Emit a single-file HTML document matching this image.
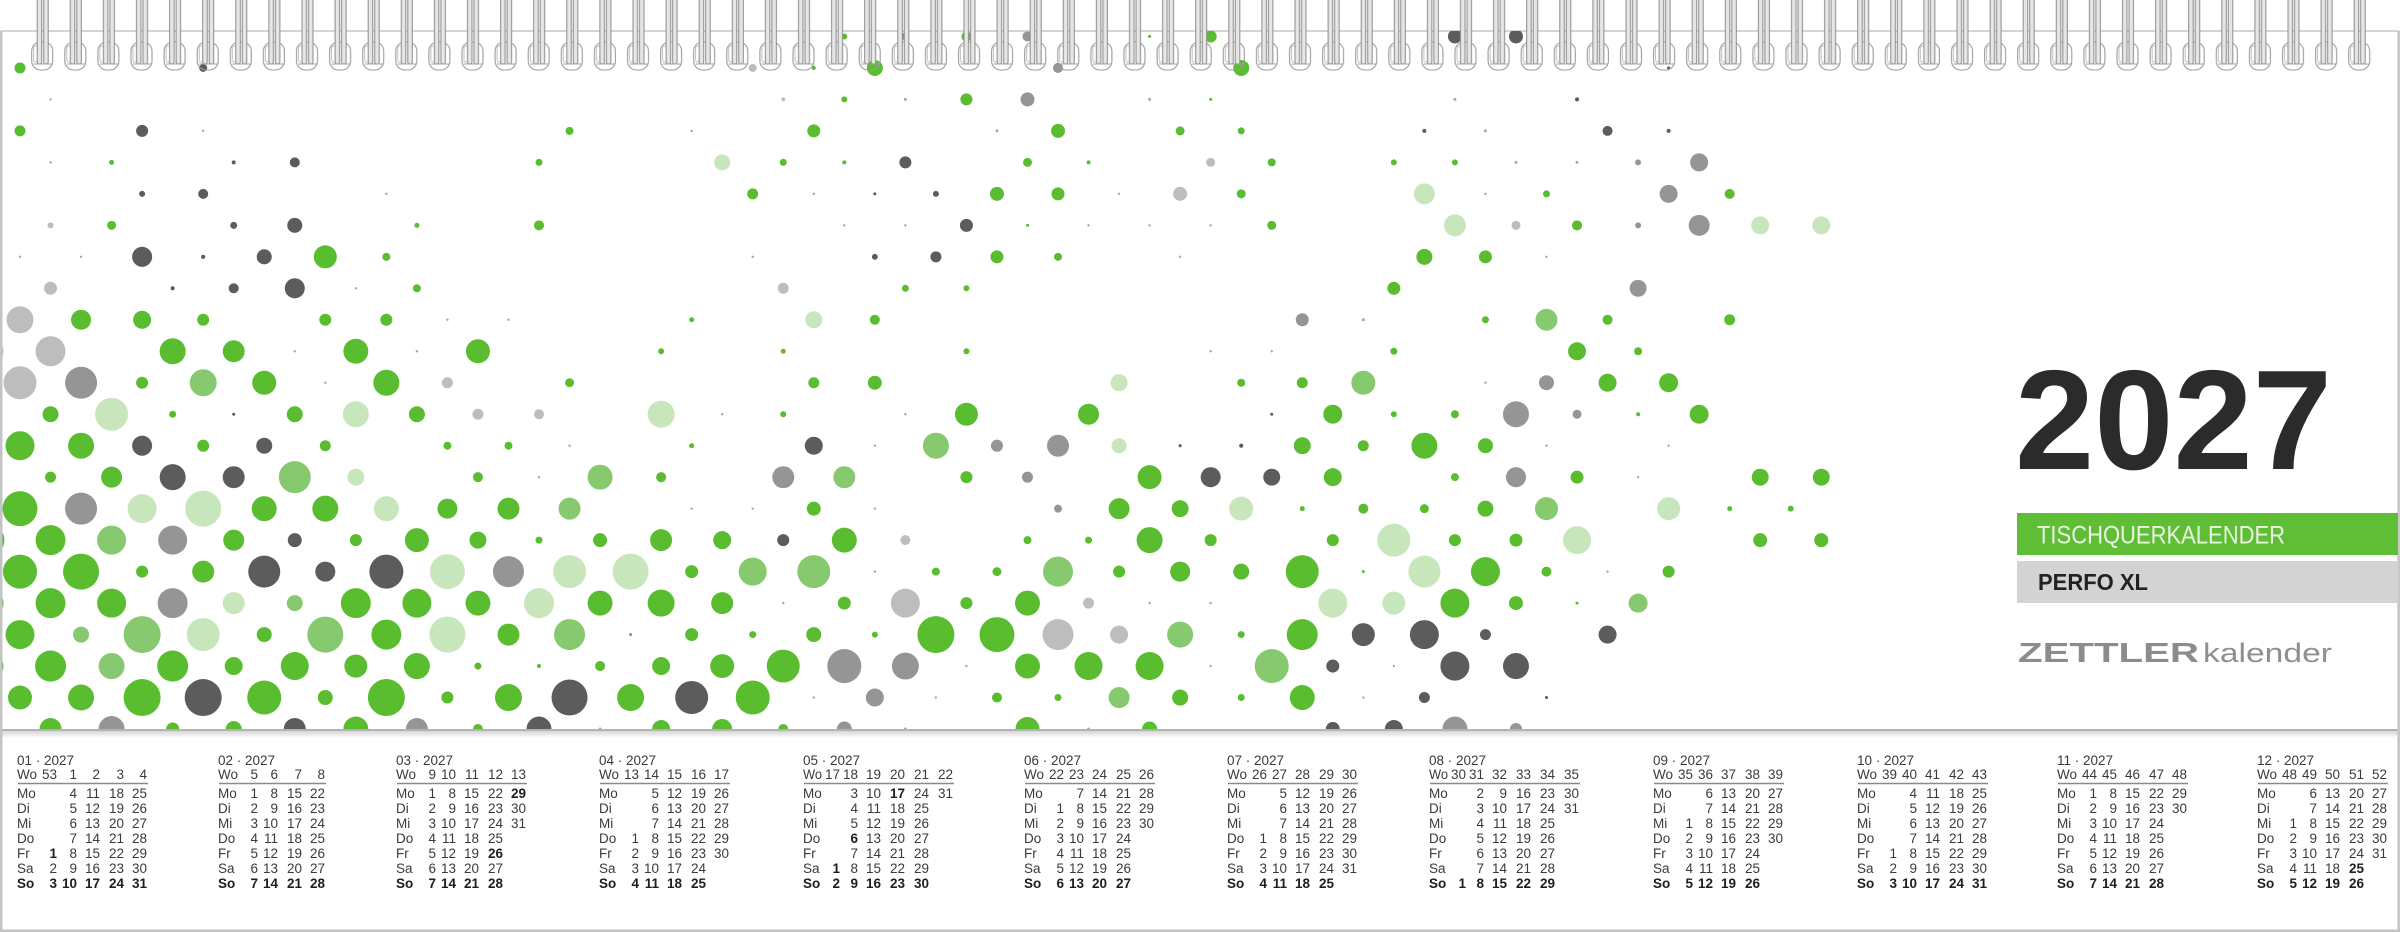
<!DOCTYPE html>
<html><head><meta charset="utf-8"><title>Tischquerkalender 2027</title>
<style>
html,body{margin:0;padding:0;background:#fff;}
svg{display:block;}
.g{fill:#59bd2f}.l{fill:#86c96f}.p{fill:#c8e6bc}.k{fill:#5c5c5c}.m{fill:#959595}.s{fill:#bdbdbd}.t{fill:#a8a8a8}
.cal text{font-family:"Liberation Sans",Arial,sans-serif;font-size:13.5px;fill:#3a3a3a}
.cal .e{text-anchor:end}
.cal .b,.cal tspan.b{font-weight:bold;fill:#1e1e1e}
.u{stroke:#8a8a8a;stroke-width:1.6;fill:none}
</style></head>
<body>
<svg width="2400" height="932" viewBox="0 0 2400 932" xmlns="http://www.w3.org/2000/svg">
<defs>
<clipPath id="cp"><rect x="2" y="31" width="2396" height="698"/></clipPath>
<pattern id="sp" x="26.15" y="0" width="33.1" height="80" patternUnits="userSpaceOnUse">
 <g transform="translate(16.55 0)">
 <rect x="-11" y="42" width="21" height="28" rx="9" fill="none" stroke="#9c9c9c" stroke-width="1.1"/>
 <rect x="-9" y="46" width="7" height="16" rx="2" fill="none" stroke="#b0b0b0" stroke-width=".8"/>
 <rect x="-5.5" y="-2" width="4.5" height="66" rx="2.2" fill="#e6e6e6" stroke="#8c8c8c" stroke-width="1"/>
 <rect x="1" y="-2" width="4.5" height="66" rx="2.2" fill="#e6e6e6" stroke="#8c8c8c" stroke-width="1"/>
 <path d="M-9 64h18" stroke="#a0a0a0" stroke-width="1"/>
 </g>
</pattern>
<linearGradient id="sh" x1="0" y1="0" x2="0" y2="1"><stop offset="0" stop-color="#d6d6d6"/><stop offset="1" stop-color="#fff"/></linearGradient>
</defs>
<rect width="2400" height="932" fill="#fff"/>
<rect x="1.5" y="31" width="2396.5" height="900" fill="#fff" stroke="#c6c6c6" stroke-width="1.5"/>

<g clip-path="url(#cp)">
<g transform="translate(20 0) scale(30.53)">
<g transform="translate(0 1.194)"><circle class="g" cx="27" r=".098"/><circle class="g" cx="29" r=".131"/><circle class="g" cx="31" r=".164"/><circle class="m" cx="33" r=".164"/><circle class="g" cx="37" r=".05"/><circle class="g" cx="39" r=".197"/><circle class="k" cx="47" r=".229"/><circle class="k" cx="49" r=".229"/></g>
<g transform="translate(0 2.2254)"><circle class="g" cx="0" r=".18"/><circle class="k" cx="6" r=".131"/><circle class="s" cx="24" r=".131"/><circle class="g" cx="26" r=".066"/><circle class="g" cx="28" r=".262"/><circle class="m" cx="34" r=".164"/><circle class="g" cx="40" r=".262"/><circle class="k" cx="54" r=".05"/></g>
<g transform="translate(0 3.2565)"><circle class="t" cx="1" r=".04"/><circle class="s" cx="25" r=".066"/><circle class="g" cx="27" r=".098"/><circle class="t" cx="29" r=".05"/><circle class="g" cx="31" r=".197"/><circle class="m" cx="33" r=".229"/><circle class="t" cx="37" r=".05"/><circle class="g" cx="39" r=".05"/><circle class="t" cx="47" r=".05"/><circle class="k" cx="51" r=".066"/></g>
<g transform="translate(0 4.2876)"><circle class="g" cx="0" r=".18"/><circle class="k" cx="4" r=".197"/><circle class="t" cx="6" r=".04"/><circle class="g" cx="18" r=".131"/><circle class="t" cx="22" r=".04"/><circle class="g" cx="26" r=".213"/><circle class="t" cx="32" r=".05"/><circle class="g" cx="34" r=".229"/><circle class="g" cx="38" r=".147"/><circle class="g" cx="40" r=".115"/><circle class="k" cx="46" r=".066"/><circle class="t" cx="48" r=".05"/><circle class="k" cx="52" r=".164"/><circle class="k" cx="54" r=".066"/></g>
<g transform="translate(0 5.3187)"><circle class="t" cx="1" r=".04"/><circle class="g" cx="3" r=".082"/><circle class="k" cx="7" r=".066"/><circle class="k" cx="9" r=".164"/><circle class="g" cx="17" r=".115"/><circle class="p" cx="23" r=".262"/><circle class="g" cx="25" r=".115"/><circle class="g" cx="27" r=".066"/><circle class="k" cx="29" r=".197"/><circle class="g" cx="33" r=".147"/><circle class="g" cx="35" r=".066"/><circle class="s" cx="39" r=".147"/><circle class="g" cx="41" r=".131"/><circle class="g" cx="45" r=".098"/><circle class="g" cx="47" r=".098"/><circle class="t" cx="49" r=".05"/><circle class="t" cx="51" r=".05"/><circle class="m" cx="53" r=".098"/><circle class="m" cx="55" r=".295"/></g>
<g transform="translate(0 6.3498)"><circle class="k" cx="4" r=".098"/><circle class="k" cx="6" r=".164"/><circle class="t" cx="12" r=".04"/><circle class="g" cx="24" r=".18"/><circle class="t" cx="26" r=".04"/><circle class="k" cx="28" r=".05"/><circle class="k" cx="30" r=".098"/><circle class="g" cx="32" r=".229"/><circle class="g" cx="34" r=".213"/><circle class="t" cx="36" r=".04"/><circle class="s" cx="38" r=".229"/><circle class="g" cx="40" r=".147"/><circle class="p" cx="46" r=".344"/><circle class="t" cx="48" r=".04"/><circle class="g" cx="50" r=".115"/><circle class="m" cx="54" r=".295"/><circle class="g" cx="56" r=".164"/></g>
<g transform="translate(0 7.381)"><circle class="s" cx="1" r=".098"/><circle class="g" cx="3" r=".147"/><circle class="k" cx="7" r=".115"/><circle class="k" cx="9" r=".246"/><circle class="g" cx="13" r=".082"/><circle class="g" cx="17" r=".164"/><circle class="t" cx="27" r=".04"/><circle class="t" cx="29" r=".04"/><circle class="k" cx="31" r=".213"/><circle class="g" cx="33" r=".05"/><circle class="t" cx="35" r=".04"/><circle class="t" cx="37" r=".04"/><circle class="t" cx="39" r=".04"/><circle class="g" cx="41" r=".147"/><circle class="p" cx="47" r=".36"/><circle class="s" cx="49" r=".147"/><circle class="g" cx="51" r=".164"/><circle class="m" cx="53" r=".098"/><circle class="m" cx="55" r=".344"/><circle class="p" cx="57" r=".295"/><circle class="p" cx="59" r=".295"/></g>
<g transform="translate(0 8.4121)"><circle class="t" cx="0" r=".04"/><circle class="t" cx="2" r=".04"/><circle class="k" cx="4" r=".328"/><circle class="k" cx="6" r=".066"/><circle class="k" cx="8" r=".246"/><circle class="g" cx="10" r=".377"/><circle class="g" cx="12" r=".131"/><circle class="t" cx="24" r=".04"/><circle class="k" cx="28" r=".098"/><circle class="k" cx="30" r=".18"/><circle class="g" cx="32" r=".213"/><circle class="g" cx="34" r=".131"/><circle class="t" cx="38" r=".04"/><circle class="g" cx="46" r=".262"/><circle class="g" cx="48" r=".213"/><circle class="t" cx="50" r=".04"/></g>
<g transform="translate(0 9.4432)"><circle class="s" cx="1" r=".213"/><circle class="k" cx="5" r=".066"/><circle class="k" cx="7" r=".164"/><circle class="k" cx="9" r=".328"/><circle class="t" cx="11" r=".04"/><circle class="g" cx="13" r=".131"/><circle class="s" cx="25" r=".18"/><circle class="g" cx="29" r=".115"/><circle class="g" cx="31" r=".098"/><circle class="g" cx="45" r=".213"/><circle class="m" cx="53" r=".278"/></g>
<g transform="translate(0 10.4743)"><circle class="s" cx="0" r=".442"/><circle class="g" cx="2" r=".328"/><circle class="g" cx="4" r=".295"/><circle class="g" cx="6" r=".197"/><circle class="g" cx="10" r=".197"/><circle class="g" cx="12" r=".197"/><circle class="t" cx="14" r=".04"/><circle class="t" cx="16" r=".04"/><circle class="g" cx="22" r=".082"/><circle class="p" cx="26" r=".278"/><circle class="g" cx="28" r=".164"/><circle class="m" cx="42" r=".213"/><circle class="t" cx="44" r=".05"/><circle class="g" cx="48" r=".115"/><circle class="l" cx="50" r=".36"/><circle class="g" cx="52" r=".164"/><circle class="g" cx="56" r=".18"/></g>
<g transform="translate(0 11.5054)"><circle class="s" cx="-1" r=".459"/><circle class="s" cx="1" r=".491"/><circle class="g" cx="5" r=".426"/><circle class="g" cx="7" r=".36"/><circle class="t" cx="9" r=".04"/><circle class="g" cx="11" r=".409"/><circle class="t" cx="13" r=".04"/><circle class="g" cx="15" r=".393"/><circle class="g" cx="21" r=".098"/><circle class="g" cx="25" r=".082"/><circle class="g" cx="31" r=".098"/><circle class="t" cx="39" r=".04"/><circle class="t" cx="41" r=".04"/><circle class="g" cx="45" r=".115"/><circle class="g" cx="51" r=".295"/><circle class="g" cx="53" r=".131"/></g>
<g transform="translate(0 12.5365)"><circle class="s" cx="0" r=".54"/><circle class="m" cx="2" r=".524"/><circle class="g" cx="4" r=".197"/><circle class="l" cx="6" r=".442"/><circle class="g" cx="8" r=".393"/><circle class="t" cx="10" r=".04"/><circle class="g" cx="12" r=".426"/><circle class="s" cx="14" r=".18"/><circle class="g" cx="18" r=".147"/><circle class="g" cx="26" r=".18"/><circle class="g" cx="28" r=".229"/><circle class="p" cx="36" r=".278"/><circle class="g" cx="40" r=".131"/><circle class="g" cx="42" r=".18"/><circle class="l" cx="44" r=".393"/><circle class="t" cx="48" r=".04"/><circle class="m" cx="50" r=".246"/><circle class="g" cx="52" r=".295"/><circle class="g" cx="54" r=".311"/></g>
<g transform="translate(0 13.5676)"><circle class="g" cx="1" r=".262"/><circle class="p" cx="3" r=".54"/><circle class="g" cx="5" r=".115"/><circle class="k" cx="7" r=".05"/><circle class="g" cx="9" r=".262"/><circle class="p" cx="11" r=".426"/><circle class="g" cx="13" r=".262"/><circle class="s" cx="15" r=".18"/><circle class="s" cx="17" r=".164"/><circle class="p" cx="21" r=".442"/><circle class="t" cx="23" r=".04"/><circle class="g" cx="25" r=".098"/><circle class="t" cx="29" r=".04"/><circle class="g" cx="31" r=".377"/><circle class="g" cx="35" r=".344"/><circle class="k" cx="41" r=".05"/><circle class="g" cx="43" r=".311"/><circle class="g" cx="45" r=".098"/><circle class="g" cx="47" r=".131"/><circle class="m" cx="49" r=".426"/><circle class="m" cx="51" r=".147"/><circle class="g" cx="53" r=".066"/><circle class="g" cx="55" r=".311"/></g>
<g transform="translate(0 14.5987)"><circle class="g" cx="0" r=".475"/><circle class="g" cx="2" r=".426"/><circle class="k" cx="4" r=".328"/><circle class="g" cx="6" r=".197"/><circle class="k" cx="8" r=".262"/><circle class="g" cx="10" r=".18"/><circle class="g" cx="14" r=".131"/><circle class="g" cx="16" r=".131"/><circle class="t" cx="18" r=".04"/><circle class="g" cx="22" r=".082"/><circle class="k" cx="26" r=".295"/><circle class="t" cx="28" r=".04"/><circle class="l" cx="30" r=".426"/><circle class="m" cx="32" r=".197"/><circle class="m" cx="34" r=".36"/><circle class="p" cx="36" r=".246"/><circle class="k" cx="38" r=".05"/><circle class="k" cx="40" r=".066"/><circle class="g" cx="42" r=".278"/><circle class="g" cx="44" r=".18"/><circle class="g" cx="46" r=".426"/><circle class="g" cx="48" r=".246"/><circle class="t" cx="50" r=".04"/><circle class="t" cx="54" r=".04"/></g>
<g transform="translate(0 15.6299)"><circle class="g" cx="1" r=".18"/><circle class="g" cx="3" r=".344"/><circle class="k" cx="5" r=".426"/><circle class="k" cx="7" r=".36"/><circle class="l" cx="9" r=".524"/><circle class="p" cx="11" r=".278"/><circle class="g" cx="15" r=".164"/><circle class="t" cx="17" r=".04"/><circle class="l" cx="19" r=".409"/><circle class="g" cx="21" r=".164"/><circle class="m" cx="25" r=".36"/><circle class="l" cx="27" r=".36"/><circle class="g" cx="31" r=".197"/><circle class="m" cx="33" r=".18"/><circle class="g" cx="37" r=".393"/><circle class="k" cx="39" r=".328"/><circle class="k" cx="41" r=".278"/><circle class="g" cx="43" r=".295"/><circle class="g" cx="47" r=".131"/><circle class="m" cx="49" r=".328"/><circle class="g" cx="51" r=".213"/><circle class="t" cx="53" r=".04"/><circle class="g" cx="57" r=".278"/><circle class="g" cx="59" r=".278"/></g>
<g transform="translate(0 16.661)"><circle class="g" cx="0" r=".573"/><circle class="m" cx="2" r=".524"/><circle class="p" cx="4" r=".475"/><circle class="p" cx="6" r=".59"/><circle class="g" cx="8" r=".409"/><circle class="g" cx="10" r=".426"/><circle class="p" cx="12" r=".409"/><circle class="g" cx="14" r=".328"/><circle class="g" cx="16" r=".36"/><circle class="l" cx="18" r=".36"/><circle class="t" cx="22" r=".04"/><circle class="t" cx="24" r=".04"/><circle class="g" cx="26" r=".229"/><circle class="t" cx="28" r=".04"/><circle class="m" cx="34" r=".131"/><circle class="g" cx="36" r=".344"/><circle class="g" cx="38" r=".278"/><circle class="p" cx="40" r=".393"/><circle class="g" cx="42" r=".082"/><circle class="g" cx="44" r=".164"/><circle class="g" cx="46" r=".147"/><circle class="g" cx="48" r=".262"/><circle class="l" cx="50" r=".377"/><circle class="p" cx="54" r=".377"/><circle class="g" cx="56" r=".082"/><circle class="g" cx="58" r=".098"/></g>
<g transform="translate(0 17.6921)"><circle class="g" cx="-1" r=".491"/><circle class="g" cx="1" r=".491"/><circle class="l" cx="3" r=".475"/><circle class="m" cx="5" r=".475"/><circle class="g" cx="7" r=".344"/><circle class="k" cx="9" r=".229"/><circle class="g" cx="11" r=".197"/><circle class="g" cx="13" r=".393"/><circle class="g" cx="15" r=".278"/><circle class="g" cx="17" r=".115"/><circle class="g" cx="19" r=".229"/><circle class="g" cx="21" r=".36"/><circle class="g" cx="23" r=".295"/><circle class="k" cx="25" r=".197"/><circle class="g" cx="27" r=".409"/><circle class="s" cx="29" r=".164"/><circle class="g" cx="33" r=".131"/><circle class="g" cx="35" r=".115"/><circle class="g" cx="37" r=".426"/><circle class="g" cx="39" r=".197"/><circle class="g" cx="43" r=".197"/><circle class="p" cx="45" r=".54"/><circle class="g" cx="47" r=".197"/><circle class="g" cx="49" r=".213"/><circle class="p" cx="51" r=".459"/><circle class="g" cx="57" r=".229"/><circle class="g" cx="59" r=".229"/></g>
<g transform="translate(0 18.7232)"><circle class="g" cx="0" r=".557"/><circle class="g" cx="2" r=".59"/><circle class="g" cx="4" r=".197"/><circle class="g" cx="6" r=".36"/><circle class="k" cx="8" r=".524"/><circle class="k" cx="10" r=".328"/><circle class="k" cx="12" r=".557"/><circle class="p" cx="14" r=".573"/><circle class="m" cx="16" r=".508"/><circle class="p" cx="18" r=".54"/><circle class="p" cx="20" r=".59"/><circle class="g" cx="22" r=".213"/><circle class="l" cx="24" r=".459"/><circle class="l" cx="26" r=".54"/><circle class="t" cx="28" r=".04"/><circle class="g" cx="30" r=".131"/><circle class="g" cx="32" r=".147"/><circle class="l" cx="34" r=".491"/><circle class="g" cx="36" r=".197"/><circle class="g" cx="38" r=".328"/><circle class="g" cx="40" r=".262"/><circle class="g" cx="42" r=".54"/><circle class="g" cx="44" r=".05"/><circle class="p" cx="46" r=".524"/><circle class="g" cx="48" r=".475"/><circle class="g" cx="50" r=".164"/><circle class="t" cx="52" r=".04"/><circle class="g" cx="54" r=".197"/></g>
<g transform="translate(0 19.7543)"><circle class="g" cx="-1" r=".459"/><circle class="g" cx="1" r=".491"/><circle class="g" cx="3" r=".475"/><circle class="m" cx="5" r=".491"/><circle class="p" cx="7" r=".36"/><circle class="l" cx="9" r=".262"/><circle class="g" cx="11" r=".491"/><circle class="g" cx="13" r=".475"/><circle class="g" cx="15" r=".409"/><circle class="p" cx="17" r=".491"/><circle class="g" cx="19" r=".409"/><circle class="g" cx="21" r=".442"/><circle class="g" cx="23" r=".36"/><circle class="t" cx="25" r=".04"/><circle class="g" cx="27" r=".213"/><circle class="s" cx="29" r=".475"/><circle class="g" cx="31" r=".197"/><circle class="g" cx="33" r=".409"/><circle class="s" cx="35" r=".18"/><circle class="t" cx="37" r=".04"/><circle class="t" cx="39" r=".04"/><circle class="p" cx="43" r=".475"/><circle class="p" cx="45" r=".377"/><circle class="g" cx="47" r=".475"/><circle class="g" cx="49" r=".229"/><circle class="g" cx="51" r=".05"/><circle class="l" cx="53" r=".311"/></g>
<g transform="translate(0 20.7854)"><circle class="g" cx="0" r=".475"/><circle class="l" cx="2" r=".262"/><circle class="l" cx="4" r=".606"/><circle class="p" cx="6" r=".54"/><circle class="g" cx="8" r=".246"/><circle class="l" cx="10" r=".59"/><circle class="g" cx="12" r=".491"/><circle class="p" cx="14" r=".59"/><circle class="g" cx="16" r=".36"/><circle class="l" cx="18" r=".508"/><circle class="g" cx="20" r=".05"/><circle class="g" cx="22" r=".213"/><circle class="g" cx="24" r=".115"/><circle class="g" cx="26" r=".246"/><circle class="g" cx="28" r=".098"/><circle class="g" cx="30" r=".606"/><circle class="g" cx="32" r=".573"/><circle class="s" cx="34" r=".508"/><circle class="s" cx="36" r=".295"/><circle class="l" cx="38" r=".426"/><circle class="g" cx="40" r=".115"/><circle class="g" cx="42" r=".508"/><circle class="k" cx="44" r=".377"/><circle class="k" cx="46" r=".475"/><circle class="k" cx="48" r=".18"/><circle class="k" cx="52" r=".295"/></g>
<g transform="translate(0 21.8166)"><circle class="g" cx="-1" r=".459"/><circle class="g" cx="1" r=".508"/><circle class="l" cx="3" r=".426"/><circle class="g" cx="5" r=".508"/><circle class="g" cx="7" r=".295"/><circle class="g" cx="9" r=".459"/><circle class="g" cx="11" r=".377"/><circle class="g" cx="13" r=".426"/><circle class="g" cx="15" r=".115"/><circle class="g" cx="17" r=".066"/><circle class="g" cx="19" r=".164"/><circle class="g" cx="21" r=".295"/><circle class="g" cx="23" r=".393"/><circle class="g" cx="25" r=".54"/><circle class="m" cx="27" r=".557"/><circle class="m" cx="29" r=".442"/><circle class="t" cx="31" r=".04"/><circle class="g" cx="33" r=".409"/><circle class="g" cx="35" r=".459"/><circle class="g" cx="37" r=".459"/><circle class="t" cx="39" r=".04"/><circle class="l" cx="41" r=".557"/><circle class="k" cx="43" r=".213"/><circle class="t" cx="45" r=".04"/><circle class="k" cx="47" r=".475"/><circle class="k" cx="49" r=".426"/></g>
<g transform="translate(0 22.8477)"><circle class="g" cx="0" r=".393"/><circle class="g" cx="2" r=".426"/><circle class="g" cx="4" r=".606"/><circle class="k" cx="6" r=".606"/><circle class="g" cx="8" r=".557"/><circle class="g" cx="10" r=".246"/><circle class="g" cx="12" r=".606"/><circle class="g" cx="14" r=".197"/><circle class="g" cx="16" r=".442"/><circle class="k" cx="18" r=".59"/><circle class="g" cx="20" r=".442"/><circle class="k" cx="22" r=".54"/><circle class="g" cx="24" r=".557"/><circle class="t" cx="26" r=".04"/><circle class="m" cx="28" r=".295"/><circle class="t" cx="30" r=".04"/><circle class="g" cx="32" r=".164"/><circle class="g" cx="34" r=".115"/><circle class="l" cx="36" r=".344"/><circle class="g" cx="38" r=".262"/><circle class="g" cx="40" r=".115"/><circle class="g" cx="42" r=".409"/><circle class="t" cx="44" r=".04"/><circle class="k" cx="46" r=".18"/><circle class="k" cx="50" r=".05"/></g>
<g transform="translate(0 23.8788)"><circle class="g" cx="1" r=".36"/><circle class="m" cx="3" r=".426"/><circle class="g" cx="5" r=".213"/><circle class="g" cx="7" r=".262"/><circle class="k" cx="9" r=".36"/><circle class="g" cx="11" r=".409"/><circle class="m" cx="13" r=".36"/><circle class="g" cx="15" r=".164"/><circle class="k" cx="17" r=".409"/><circle class="t" cx="19" r=".05"/><circle class="g" cx="21" r=".295"/><circle class="g" cx="23" r=".328"/><circle class="g" cx="25" r=".164"/><circle class="m" cx="27" r=".246"/><circle class="t" cx="29" r=".05"/><circle class="g" cx="33" r=".393"/><circle class="t" cx="35" r=".05"/><circle class="g" cx="37" r=".246"/><circle class="k" cx="43" r=".229"/><circle class="k" cx="45" r=".295"/><circle class="m" cx="47" r=".409"/><circle class="m" cx="49" r=".197"/></g>
</g>
</g>

<!-- top section bottom edge -->
<rect x="2" y="729" width="2396" height="2" fill="#b3b3b3"/>
<rect x="2" y="731" width="2396" height="7" fill="url(#sh)"/>
<rect x="0" y="31" width="2.5" height="901" fill="#c4c4c4"/>
<rect x="2397.5" y="31" width="2.5" height="901" fill="#c8c8c8"/>
<rect x="0" y="929.5" width="2400" height="2.5" fill="#c4c4c4"/>

<!-- spiral -->
<rect x="26.15" y="0" width="2350.1" height="76" fill="url(#sp)"/>

<!-- title block -->
<text x="2015" y="469" font-family="Liberation Sans, Arial, sans-serif" font-size="142" font-weight="bold" fill="#2b2b2b" textLength="317" lengthAdjust="spacingAndGlyphs">2027</text>
<rect x="2017" y="513" width="381" height="42" fill="#5fbe35"/>
<text x="2037" y="543.5" font-family="Liberation Sans, Arial, sans-serif" font-size="25" fill="#e8f5df" textLength="248" lengthAdjust="spacingAndGlyphs">TISCHQUERKALENDER</text>
<rect x="2017" y="561" width="381" height="42" fill="#d3d3d3"/>
<text x="2038" y="590" font-family="Liberation Sans, Arial, sans-serif" font-size="23" font-weight="bold" fill="#222" textLength="110" lengthAdjust="spacingAndGlyphs">PERFO XL</text>
<text x="2018" y="662" font-family="Liberation Sans, Arial, sans-serif" font-size="28" font-weight="bold" fill="#8c8c8c" textLength="181" lengthAdjust="spacingAndGlyphs">ZETTLER</text>
<text x="2203" y="662" font-family="Liberation Sans, Arial, sans-serif" font-size="27" fill="#8f8f8f" textLength="129" lengthAdjust="spacingAndGlyphs">kalender</text>

<!-- calendars -->
<g class="cal">
<!-- 01 -->
<g transform="translate(17 0)">
<text x="0" y="765">01 · 2027</text><text x="0" y="779">Wo</text>
<text class="e" y="779"><tspan x="40">53</tspan><tspan x="60">1</tspan><tspan x="83">2</tspan><tspan x="107">3</tspan><tspan x="130">4</tspan></text>
<path class="u" d="M1 783.5H131"/>
<text><tspan x="0" y="798">Mo</tspan><tspan x="0" y="813">Di</tspan><tspan x="0" y="828">Mi</tspan><tspan x="0" y="843">Do</tspan><tspan x="0" y="858">Fr</tspan><tspan x="0" y="873">Sa</tspan><tspan class="b" x="0" y="888">So</tspan></text>
<text class="e" y="798"><tspan x="60">4</tspan><tspan x="83">11</tspan><tspan x="107">18</tspan><tspan x="130">25</tspan></text>
<text class="e" y="813"><tspan x="60">5</tspan><tspan x="83">12</tspan><tspan x="107">19</tspan><tspan x="130">26</tspan></text>
<text class="e" y="828"><tspan x="60">6</tspan><tspan x="83">13</tspan><tspan x="107">20</tspan><tspan x="130">27</tspan></text>
<text class="e" y="843"><tspan x="60">7</tspan><tspan x="83">14</tspan><tspan x="107">21</tspan><tspan x="130">28</tspan></text>
<text class="e" y="858"><tspan class="b" x="40">1</tspan><tspan x="60">8</tspan><tspan x="83">15</tspan><tspan x="107">22</tspan><tspan x="130">29</tspan></text>
<text class="e" y="873"><tspan x="40">2</tspan><tspan x="60">9</tspan><tspan x="83">16</tspan><tspan x="107">23</tspan><tspan x="130">30</tspan></text>
<text class="e b" y="888"><tspan x="40">3</tspan><tspan x="60">10</tspan><tspan x="83">17</tspan><tspan x="107">24</tspan><tspan x="130">31</tspan></text>
</g>
<!-- 02 -->
<g transform="translate(218 0)">
<text x="0" y="765">02 · 2027</text><text x="0" y="779">Wo</text>
<text class="e" y="779"><tspan x="40">5</tspan><tspan x="60">6</tspan><tspan x="84">7</tspan><tspan x="107">8</tspan></text>
<path class="u" d="M1 783.5H108"/>
<text><tspan x="0" y="798">Mo</tspan><tspan x="0" y="813">Di</tspan><tspan x="0" y="828">Mi</tspan><tspan x="0" y="843">Do</tspan><tspan x="0" y="858">Fr</tspan><tspan x="0" y="873">Sa</tspan><tspan class="b" x="0" y="888">So</tspan></text>
<text class="e" y="798"><tspan x="40">1</tspan><tspan x="60">8</tspan><tspan x="84">15</tspan><tspan x="107">22</tspan></text>
<text class="e" y="813"><tspan x="40">2</tspan><tspan x="60">9</tspan><tspan x="84">16</tspan><tspan x="107">23</tspan></text>
<text class="e" y="828"><tspan x="40">3</tspan><tspan x="60">10</tspan><tspan x="84">17</tspan><tspan x="107">24</tspan></text>
<text class="e" y="843"><tspan x="40">4</tspan><tspan x="60">11</tspan><tspan x="84">18</tspan><tspan x="107">25</tspan></text>
<text class="e" y="858"><tspan x="40">5</tspan><tspan x="60">12</tspan><tspan x="84">19</tspan><tspan x="107">26</tspan></text>
<text class="e" y="873"><tspan x="40">6</tspan><tspan x="60">13</tspan><tspan x="84">20</tspan><tspan x="107">27</tspan></text>
<text class="e b" y="888"><tspan x="40">7</tspan><tspan x="60">14</tspan><tspan x="84">21</tspan><tspan x="107">28</tspan></text>
</g>
<!-- 03 -->
<g transform="translate(396 0)">
<text x="0" y="765">03 · 2027</text><text x="0" y="779">Wo</text>
<text class="e" y="779"><tspan x="40">9</tspan><tspan x="60">10</tspan><tspan x="83">11</tspan><tspan x="107">12</tspan><tspan x="130">13</tspan></text>
<path class="u" d="M1 783.5H131"/>
<text><tspan x="0" y="798">Mo</tspan><tspan x="0" y="813">Di</tspan><tspan x="0" y="828">Mi</tspan><tspan x="0" y="843">Do</tspan><tspan x="0" y="858">Fr</tspan><tspan x="0" y="873">Sa</tspan><tspan class="b" x="0" y="888">So</tspan></text>
<text class="e" y="798"><tspan x="40">1</tspan><tspan x="60">8</tspan><tspan x="83">15</tspan><tspan x="107">22</tspan><tspan class="b" x="130">29</tspan></text>
<text class="e" y="813"><tspan x="40">2</tspan><tspan x="60">9</tspan><tspan x="83">16</tspan><tspan x="107">23</tspan><tspan x="130">30</tspan></text>
<text class="e" y="828"><tspan x="40">3</tspan><tspan x="60">10</tspan><tspan x="83">17</tspan><tspan x="107">24</tspan><tspan x="130">31</tspan></text>
<text class="e" y="843"><tspan x="40">4</tspan><tspan x="60">11</tspan><tspan x="83">18</tspan><tspan x="107">25</tspan></text>
<text class="e" y="858"><tspan x="40">5</tspan><tspan x="60">12</tspan><tspan x="83">19</tspan><tspan class="b" x="107">26</tspan></text>
<text class="e" y="873"><tspan x="40">6</tspan><tspan x="60">13</tspan><tspan x="83">20</tspan><tspan x="107">27</tspan></text>
<text class="e b" y="888"><tspan x="40">7</tspan><tspan x="60">14</tspan><tspan x="83">21</tspan><tspan x="107">28</tspan></text>
</g>
<!-- 04 -->
<g transform="translate(599 0)">
<text x="0" y="765">04 · 2027</text><text x="0" y="779">Wo</text>
<text class="e" y="779"><tspan x="40">13</tspan><tspan x="60">14</tspan><tspan x="83">15</tspan><tspan x="107">16</tspan><tspan x="130">17</tspan></text>
<path class="u" d="M1 783.5H131"/>
<text><tspan x="0" y="798">Mo</tspan><tspan x="0" y="813">Di</tspan><tspan x="0" y="828">Mi</tspan><tspan x="0" y="843">Do</tspan><tspan x="0" y="858">Fr</tspan><tspan x="0" y="873">Sa</tspan><tspan class="b" x="0" y="888">So</tspan></text>
<text class="e" y="798"><tspan x="60">5</tspan><tspan x="83">12</tspan><tspan x="107">19</tspan><tspan x="130">26</tspan></text>
<text class="e" y="813"><tspan x="60">6</tspan><tspan x="83">13</tspan><tspan x="107">20</tspan><tspan x="130">27</tspan></text>
<text class="e" y="828"><tspan x="60">7</tspan><tspan x="83">14</tspan><tspan x="107">21</tspan><tspan x="130">28</tspan></text>
<text class="e" y="843"><tspan x="40">1</tspan><tspan x="60">8</tspan><tspan x="83">15</tspan><tspan x="107">22</tspan><tspan x="130">29</tspan></text>
<text class="e" y="858"><tspan x="40">2</tspan><tspan x="60">9</tspan><tspan x="83">16</tspan><tspan x="107">23</tspan><tspan x="130">30</tspan></text>
<text class="e" y="873"><tspan x="40">3</tspan><tspan x="60">10</tspan><tspan x="83">17</tspan><tspan x="107">24</tspan></text>
<text class="e b" y="888"><tspan x="40">4</tspan><tspan x="60">11</tspan><tspan x="83">18</tspan><tspan x="107">25</tspan></text>
</g>
<!-- 05 -->
<g transform="translate(803 0)">
<text x="0" y="765">05 · 2027</text><text x="0" y="779" textLength="19" lengthAdjust="spacingAndGlyphs">Wo</text>
<text class="e" y="779"><tspan x="37">17</tspan><tspan x="55">18</tspan><tspan x="78">19</tspan><tspan x="102">20</tspan><tspan x="126">21</tspan><tspan x="150">22</tspan></text>
<path class="u" d="M1 783.5H151"/>
<text><tspan x="0" y="798">Mo</tspan><tspan x="0" y="813">Di</tspan><tspan x="0" y="828">Mi</tspan><tspan x="0" y="843">Do</tspan><tspan x="0" y="858">Fr</tspan><tspan x="0" y="873">Sa</tspan><tspan class="b" x="0" y="888">So</tspan></text>
<text class="e" y="798"><tspan x="55">3</tspan><tspan x="78">10</tspan><tspan class="b" x="102">17</tspan><tspan x="126">24</tspan><tspan x="150">31</tspan></text>
<text class="e" y="813"><tspan x="55">4</tspan><tspan x="78">11</tspan><tspan x="102">18</tspan><tspan x="126">25</tspan></text>
<text class="e" y="828"><tspan x="55">5</tspan><tspan x="78">12</tspan><tspan x="102">19</tspan><tspan x="126">26</tspan></text>
<text class="e" y="843"><tspan class="b" x="55">6</tspan><tspan x="78">13</tspan><tspan x="102">20</tspan><tspan x="126">27</tspan></text>
<text class="e" y="858"><tspan x="55">7</tspan><tspan x="78">14</tspan><tspan x="102">21</tspan><tspan x="126">28</tspan></text>
<text class="e" y="873"><tspan class="b" x="37">1</tspan><tspan x="55">8</tspan><tspan x="78">15</tspan><tspan x="102">22</tspan><tspan x="126">29</tspan></text>
<text class="e b" y="888"><tspan x="37">2</tspan><tspan x="55">9</tspan><tspan x="78">16</tspan><tspan x="102">23</tspan><tspan x="126">30</tspan></text>
</g>
<!-- 06 -->
<g transform="translate(1024 0)">
<text x="0" y="765">06 · 2027</text><text x="0" y="779">Wo</text>
<text class="e" y="779"><tspan x="40">22</tspan><tspan x="60">23</tspan><tspan x="83">24</tspan><tspan x="107">25</tspan><tspan x="130">26</tspan></text>
<path class="u" d="M1 783.5H131"/>
<text><tspan x="0" y="798">Mo</tspan><tspan x="0" y="813">Di</tspan><tspan x="0" y="828">Mi</tspan><tspan x="0" y="843">Do</tspan><tspan x="0" y="858">Fr</tspan><tspan x="0" y="873">Sa</tspan><tspan class="b" x="0" y="888">So</tspan></text>
<text class="e" y="798"><tspan x="60">7</tspan><tspan x="83">14</tspan><tspan x="107">21</tspan><tspan x="130">28</tspan></text>
<text class="e" y="813"><tspan x="40">1</tspan><tspan x="60">8</tspan><tspan x="83">15</tspan><tspan x="107">22</tspan><tspan x="130">29</tspan></text>
<text class="e" y="828"><tspan x="40">2</tspan><tspan x="60">9</tspan><tspan x="83">16</tspan><tspan x="107">23</tspan><tspan x="130">30</tspan></text>
<text class="e" y="843"><tspan x="40">3</tspan><tspan x="60">10</tspan><tspan x="83">17</tspan><tspan x="107">24</tspan></text>
<text class="e" y="858"><tspan x="40">4</tspan><tspan x="60">11</tspan><tspan x="83">18</tspan><tspan x="107">25</tspan></text>
<text class="e" y="873"><tspan x="40">5</tspan><tspan x="60">12</tspan><tspan x="83">19</tspan><tspan x="107">26</tspan></text>
<text class="e b" y="888"><tspan x="40">6</tspan><tspan x="60">13</tspan><tspan x="83">20</tspan><tspan x="107">27</tspan></text>
</g>
<!-- 07 -->
<g transform="translate(1227 0)">
<text x="0" y="765">07 · 2027</text><text x="0" y="779">Wo</text>
<text class="e" y="779"><tspan x="40">26</tspan><tspan x="60">27</tspan><tspan x="83">28</tspan><tspan x="107">29</tspan><tspan x="130">30</tspan></text>
<path class="u" d="M1 783.5H131"/>
<text><tspan x="0" y="798">Mo</tspan><tspan x="0" y="813">Di</tspan><tspan x="0" y="828">Mi</tspan><tspan x="0" y="843">Do</tspan><tspan x="0" y="858">Fr</tspan><tspan x="0" y="873">Sa</tspan><tspan class="b" x="0" y="888">So</tspan></text>
<text class="e" y="798"><tspan x="60">5</tspan><tspan x="83">12</tspan><tspan x="107">19</tspan><tspan x="130">26</tspan></text>
<text class="e" y="813"><tspan x="60">6</tspan><tspan x="83">13</tspan><tspan x="107">20</tspan><tspan x="130">27</tspan></text>
<text class="e" y="828"><tspan x="60">7</tspan><tspan x="83">14</tspan><tspan x="107">21</tspan><tspan x="130">28</tspan></text>
<text class="e" y="843"><tspan x="40">1</tspan><tspan x="60">8</tspan><tspan x="83">15</tspan><tspan x="107">22</tspan><tspan x="130">29</tspan></text>
<text class="e" y="858"><tspan x="40">2</tspan><tspan x="60">9</tspan><tspan x="83">16</tspan><tspan x="107">23</tspan><tspan x="130">30</tspan></text>
<text class="e" y="873"><tspan x="40">3</tspan><tspan x="60">10</tspan><tspan x="83">17</tspan><tspan x="107">24</tspan><tspan x="130">31</tspan></text>
<text class="e b" y="888"><tspan x="40">4</tspan><tspan x="60">11</tspan><tspan x="83">18</tspan><tspan x="107">25</tspan></text>
</g>
<!-- 08 -->
<g transform="translate(1429 0)">
<text x="0" y="765">08 · 2027</text><text x="0" y="779" textLength="19" lengthAdjust="spacingAndGlyphs">Wo</text>
<text class="e" y="779"><tspan x="37">30</tspan><tspan x="55">31</tspan><tspan x="78">32</tspan><tspan x="102">33</tspan><tspan x="126">34</tspan><tspan x="150">35</tspan></text>
<path class="u" d="M1 783.5H151"/>
<text><tspan x="0" y="798">Mo</tspan><tspan x="0" y="813">Di</tspan><tspan x="0" y="828">Mi</tspan><tspan x="0" y="843">Do</tspan><tspan x="0" y="858">Fr</tspan><tspan x="0" y="873">Sa</tspan><tspan class="b" x="0" y="888">So</tspan></text>
<text class="e" y="798"><tspan x="55">2</tspan><tspan x="78">9</tspan><tspan x="102">16</tspan><tspan x="126">23</tspan><tspan x="150">30</tspan></text>
<text class="e" y="813"><tspan x="55">3</tspan><tspan x="78">10</tspan><tspan x="102">17</tspan><tspan x="126">24</tspan><tspan x="150">31</tspan></text>
<text class="e" y="828"><tspan x="55">4</tspan><tspan x="78">11</tspan><tspan x="102">18</tspan><tspan x="126">25</tspan></text>
<text class="e" y="843"><tspan x="55">5</tspan><tspan x="78">12</tspan><tspan x="102">19</tspan><tspan x="126">26</tspan></text>
<text class="e" y="858"><tspan x="55">6</tspan><tspan x="78">13</tspan><tspan x="102">20</tspan><tspan x="126">27</tspan></text>
<text class="e" y="873"><tspan x="55">7</tspan><tspan x="78">14</tspan><tspan x="102">21</tspan><tspan x="126">28</tspan></text>
<text class="e b" y="888"><tspan x="37">1</tspan><tspan x="55">8</tspan><tspan x="78">15</tspan><tspan x="102">22</tspan><tspan x="126">29</tspan></text>
</g>
<!-- 09 -->
<g transform="translate(1653 0)">
<text x="0" y="765">09 · 2027</text><text x="0" y="779">Wo</text>
<text class="e" y="779"><tspan x="40">35</tspan><tspan x="60">36</tspan><tspan x="83">37</tspan><tspan x="107">38</tspan><tspan x="130">39</tspan></text>
<path class="u" d="M1 783.5H131"/>
<text><tspan x="0" y="798">Mo</tspan><tspan x="0" y="813">Di</tspan><tspan x="0" y="828">Mi</tspan><tspan x="0" y="843">Do</tspan><tspan x="0" y="858">Fr</tspan><tspan x="0" y="873">Sa</tspan><tspan class="b" x="0" y="888">So</tspan></text>
<text class="e" y="798"><tspan x="60">6</tspan><tspan x="83">13</tspan><tspan x="107">20</tspan><tspan x="130">27</tspan></text>
<text class="e" y="813"><tspan x="60">7</tspan><tspan x="83">14</tspan><tspan x="107">21</tspan><tspan x="130">28</tspan></text>
<text class="e" y="828"><tspan x="40">1</tspan><tspan x="60">8</tspan><tspan x="83">15</tspan><tspan x="107">22</tspan><tspan x="130">29</tspan></text>
<text class="e" y="843"><tspan x="40">2</tspan><tspan x="60">9</tspan><tspan x="83">16</tspan><tspan x="107">23</tspan><tspan x="130">30</tspan></text>
<text class="e" y="858"><tspan x="40">3</tspan><tspan x="60">10</tspan><tspan x="83">17</tspan><tspan x="107">24</tspan></text>
<text class="e" y="873"><tspan x="40">4</tspan><tspan x="60">11</tspan><tspan x="83">18</tspan><tspan x="107">25</tspan></text>
<text class="e b" y="888"><tspan x="40">5</tspan><tspan x="60">12</tspan><tspan x="83">19</tspan><tspan x="107">26</tspan></text>
</g>
<!-- 10 -->
<g transform="translate(1857 0)">
<text x="0" y="765">10 · 2027</text><text x="0" y="779">Wo</text>
<text class="e" y="779"><tspan x="40">39</tspan><tspan x="60">40</tspan><tspan x="83">41</tspan><tspan x="107">42</tspan><tspan x="130">43</tspan></text>
<path class="u" d="M1 783.5H131"/>
<text><tspan x="0" y="798">Mo</tspan><tspan x="0" y="813">Di</tspan><tspan x="0" y="828">Mi</tspan><tspan x="0" y="843">Do</tspan><tspan x="0" y="858">Fr</tspan><tspan x="0" y="873">Sa</tspan><tspan class="b" x="0" y="888">So</tspan></text>
<text class="e" y="798"><tspan x="60">4</tspan><tspan x="83">11</tspan><tspan x="107">18</tspan><tspan x="130">25</tspan></text>
<text class="e" y="813"><tspan x="60">5</tspan><tspan x="83">12</tspan><tspan x="107">19</tspan><tspan x="130">26</tspan></text>
<text class="e" y="828"><tspan x="60">6</tspan><tspan x="83">13</tspan><tspan x="107">20</tspan><tspan x="130">27</tspan></text>
<text class="e" y="843"><tspan x="60">7</tspan><tspan x="83">14</tspan><tspan x="107">21</tspan><tspan x="130">28</tspan></text>
<text class="e" y="858"><tspan x="40">1</tspan><tspan x="60">8</tspan><tspan x="83">15</tspan><tspan x="107">22</tspan><tspan x="130">29</tspan></text>
<text class="e" y="873"><tspan x="40">2</tspan><tspan x="60">9</tspan><tspan x="83">16</tspan><tspan x="107">23</tspan><tspan x="130">30</tspan></text>
<text class="e b" y="888"><tspan x="40">3</tspan><tspan x="60">10</tspan><tspan x="83">17</tspan><tspan x="107">24</tspan><tspan x="130">31</tspan></text>
</g>
<!-- 11 -->
<g transform="translate(2057 0)">
<text x="0" y="765">11 · 2027</text><text x="0" y="779">Wo</text>
<text class="e" y="779"><tspan x="40">44</tspan><tspan x="60">45</tspan><tspan x="83">46</tspan><tspan x="107">47</tspan><tspan x="130">48</tspan></text>
<path class="u" d="M1 783.5H131"/>
<text><tspan x="0" y="798">Mo</tspan><tspan x="0" y="813">Di</tspan><tspan x="0" y="828">Mi</tspan><tspan x="0" y="843">Do</tspan><tspan x="0" y="858">Fr</tspan><tspan x="0" y="873">Sa</tspan><tspan class="b" x="0" y="888">So</tspan></text>
<text class="e" y="798"><tspan x="40">1</tspan><tspan x="60">8</tspan><tspan x="83">15</tspan><tspan x="107">22</tspan><tspan x="130">29</tspan></text>
<text class="e" y="813"><tspan x="40">2</tspan><tspan x="60">9</tspan><tspan x="83">16</tspan><tspan x="107">23</tspan><tspan x="130">30</tspan></text>
<text class="e" y="828"><tspan x="40">3</tspan><tspan x="60">10</tspan><tspan x="83">17</tspan><tspan x="107">24</tspan></text>
<text class="e" y="843"><tspan x="40">4</tspan><tspan x="60">11</tspan><tspan x="83">18</tspan><tspan x="107">25</tspan></text>
<text class="e" y="858"><tspan x="40">5</tspan><tspan x="60">12</tspan><tspan x="83">19</tspan><tspan x="107">26</tspan></text>
<text class="e" y="873"><tspan x="40">6</tspan><tspan x="60">13</tspan><tspan x="83">20</tspan><tspan x="107">27</tspan></text>
<text class="e b" y="888"><tspan x="40">7</tspan><tspan x="60">14</tspan><tspan x="83">21</tspan><tspan x="107">28</tspan></text>
</g>
<!-- 12 -->
<g transform="translate(2257 0)">
<text x="0" y="765">12 · 2027</text><text x="0" y="779">Wo</text>
<text class="e" y="779"><tspan x="40">48</tspan><tspan x="60">49</tspan><tspan x="83">50</tspan><tspan x="107">51</tspan><tspan x="130">52</tspan></text>
<path class="u" d="M1 783.5H131"/>
<text><tspan x="0" y="798">Mo</tspan><tspan x="0" y="813">Di</tspan><tspan x="0" y="828">Mi</tspan><tspan x="0" y="843">Do</tspan><tspan x="0" y="858">Fr</tspan><tspan x="0" y="873">Sa</tspan><tspan class="b" x="0" y="888">So</tspan></text>
<text class="e" y="798"><tspan x="60">6</tspan><tspan x="83">13</tspan><tspan x="107">20</tspan><tspan x="130">27</tspan></text>
<text class="e" y="813"><tspan x="60">7</tspan><tspan x="83">14</tspan><tspan x="107">21</tspan><tspan x="130">28</tspan></text>
<text class="e" y="828"><tspan x="40">1</tspan><tspan x="60">8</tspan><tspan x="83">15</tspan><tspan x="107">22</tspan><tspan x="130">29</tspan></text>
<text class="e" y="843"><tspan x="40">2</tspan><tspan x="60">9</tspan><tspan x="83">16</tspan><tspan x="107">23</tspan><tspan x="130">30</tspan></text>
<text class="e" y="858"><tspan x="40">3</tspan><tspan x="60">10</tspan><tspan x="83">17</tspan><tspan x="107">24</tspan><tspan x="130">31</tspan></text>
<text class="e" y="873"><tspan x="40">4</tspan><tspan x="60">11</tspan><tspan x="83">18</tspan><tspan class="b" x="107">25</tspan></text>
<text class="e b" y="888"><tspan x="40">5</tspan><tspan x="60">12</tspan><tspan x="83">19</tspan><tspan x="107">26</tspan></text>
</g>
</g>
</svg>
</body></html>
